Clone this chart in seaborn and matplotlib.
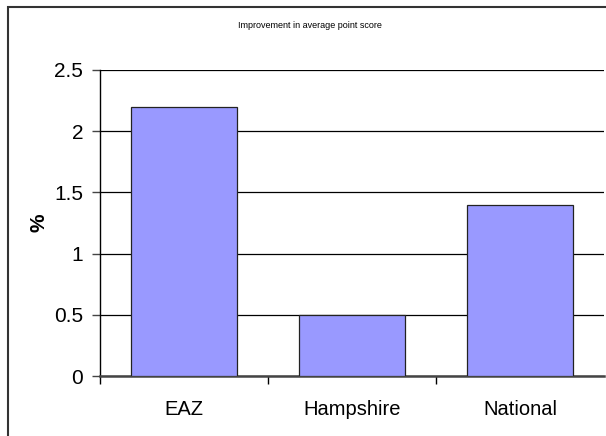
import matplotlib
matplotlib.use("Agg")
import matplotlib.pyplot as plt
import seaborn as sns
import pandas as pd
from matplotlib.patches import Rectangle

categories = ["EAZ", "Hampshire", "National"]
values = [2.2, 0.5, 1.4]
y_ticks = [0, 0.5, 1, 1.5, 2, 2.5]
y_tick_labels = ["0", "0.5", "1", "1.5", "2", "2.5"]
title = "Improvement in average point score"
y_label = "%"

sns.set_theme(style="white")
plt.rcParams["font.family"] = ["Liberation Sans", "DejaVu Sans"]
plt.rcParams["text.color"] = "black"
plt.rcParams["xtick.color"] = "black"
plt.rcParams["ytick.color"] = "black"
plt.rcParams["axes.labelcolor"] = "black"

df = pd.DataFrame({"area": categories, "value": values})

fig = plt.figure(figsize=(6.06, 4.36), dpi=100)
ax = fig.add_axes([100 / 606, 1 - 376 / 436, 504 / 606, 306 / 436])

sns.barplot(data=df, x="area", y="value", ax=ax, color="#9999FF",
            saturation=1, width=0.63, edgecolor="#222222", linewidth=0.9,
            zorder=3)

ax.set_xlim(-0.5, 2.5)
ax.set_ylim(0, 2.5)
ax.set_yticks(y_ticks)
ax.set_yticklabels(y_tick_labels, fontsize=15)
ax.yaxis.grid(True, color="black", linewidth=0.9, zorder=0)
ax.set_axisbelow(True)

ax.set_xticks(range(len(categories)))
ax.set_xticklabels(categories, fontsize=14.5)
ax.set_xticks([-0.5, 0.5, 1.5], minor=True)
ax.tick_params(axis="x", which="major", length=0, pad=17)
ax.tick_params(axis="x", which="minor", length=6, width=1, color="black",
               direction="out", bottom=True)
ax.tick_params(axis="y", length=6, width=1, color="#444444",
               direction="out", left=True, pad=6)

ax.set_xlabel("")
ax.set_ylabel(y_label, fontsize=15, fontweight="bold")
ax.yaxis.set_label_coords(-0.103, 0.5)

for side in ["top", "right"]:
    ax.spines[side].set_visible(False)
ax.spines["left"].set_color("black")
ax.spines["left"].set_linewidth(1.0)
ax.spines["bottom"].set_color("#444444")
ax.spines["bottom"].set_linewidth(1.8)

fig.text(0.512, 1 - 25 / 436, title, fontsize=6.5, ha="center", va="center")

# outer chart frame
fig.patches.append(Rectangle((8 / 606, -0.05), 1.05, 1 - 7 / 436 + 0.05,
                             transform=fig.transFigure, fill=False,
                             edgecolor="#333333", linewidth=1.5))

fig.savefig("out.png", dpi=100)
